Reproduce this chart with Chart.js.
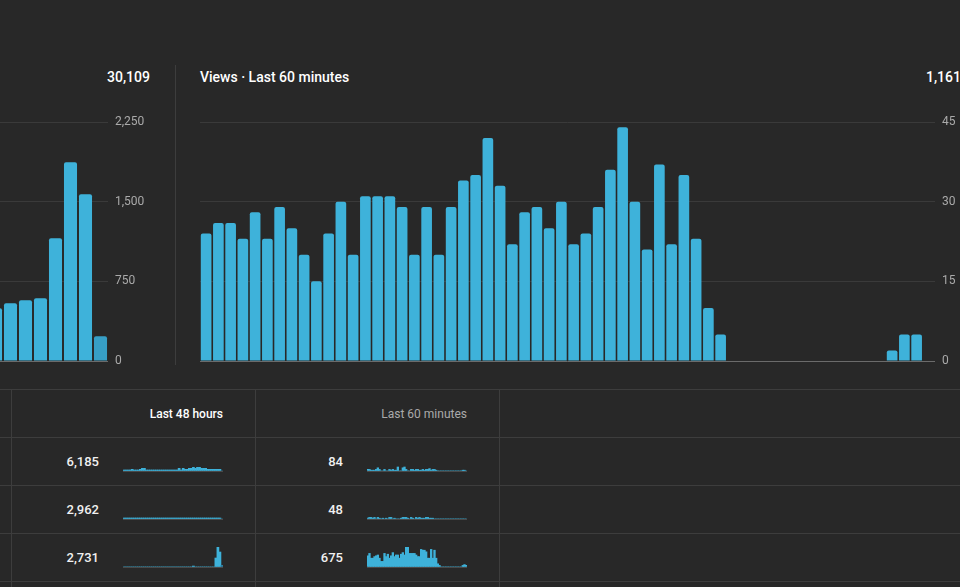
<!DOCTYPE html>
<html>
<head>
<meta charset="utf-8">
<script src="https://cdn.jsdelivr.net/npm/chart.js@4"></script>
<style>
  body{margin:0;width:960px;height:587px;overflow:hidden;position:relative;background:#282828;
       font-family:Roboto,"Noto Sans",sans-serif;color:#fff}
  .abs{position:absolute;white-space:nowrap}
  .hd{font-size:14px;font-weight:500;line-height:20px;top:67px}
  .hline{position:absolute;left:0;width:960px;height:1px;background:#3d3d3d}
  .vline{position:absolute;width:1px;background:#3d3d3d}
  .num{font-size:13px;font-weight:500;line-height:18px;text-align:right;color:#f1f1f1}
  .th{font-size:12px;line-height:16px;top:406px;text-align:right}
  canvas{position:absolute}
</style>
</head>
<body>

<div class="abs hd" style="left:0;width:150px;text-align:right">30,109</div>
<div class="abs hd" style="left:200px">Views · Last 60 minutes</div>
<div class="abs hd" style="left:926px">1,161</div>
<div class="vline" style="left:175px;top:65px;height:300px"></div>

<canvas id="hours" width="160" height="280" style="left:-12px;top:101px"></canvas>
<canvas id="minutes" width="775" height="280" style="left:200px;top:101px"></canvas>

<div class="hline" style="top:389px"></div>
<div class="hline" style="top:437px"></div>
<div class="hline" style="top:485px"></div>
<div class="hline" style="top:533px"></div>
<div class="hline" style="top:581px"></div>
<div class="vline" style="left:11px;top:389px;height:198px"></div>
<div class="vline" style="left:255px;top:389px;height:198px"></div>
<div class="vline" style="left:499px;top:389px;height:198px"></div>

<div class="abs th" style="left:0;width:223px;font-weight:500;color:#fff">Last 48 hours</div>
<div class="abs th" style="left:0;width:467px;color:#aaa">Last 60 minutes</div>

<div id="rows"></div>

<script>
// ==== DATA ====
// main 48h chart: only the last hours are in view
const hourLabels = ["41","42","43","44","45","46","47","48"];
const hourViews  = [496, 543, 571, 590, 1155, 1871, 1569, 232];
const hourTicks  = [0, 750, 1500, 2250];

// main 60 minute chart
const minuteLabels = Array.from({length:60}, (_, i) => String(i + 1));
const minuteViews = [
  24,26,26,23,28,23,29,25,20,15,
  24,30,20,31,31,31,29,20,29,20,
  29,34,35,42,33,22,28,29,25,30,
  22,24,29,36,44,30,21,37,22,35,
  23,10, 5, 0, 0, 0, 0, 0, 0, 0,
   0, 0, 0, 0, 0, 0, 2, 5, 5, 0
];
const minuteTicks = [0, 15, 30, 45];

// table rows
const rowTotals48 = ["6,185", "2,962", "2,731"];
const rowTotals60 = ["84", "48", "675"];

const spark48 = [
  [62,62,62,62,104,62,62,62,104,167,167,62,62,62,62,62,62,62,62,62,62,62,62,62,62,62,62,
   167,62,167,104,104,167,167,229,167,229,229,167,167,167,104,104,104,104,104,104,104,0],
  [62,62,62,62,62,62,62,62,62,62,62,62,62,62,62,62,62,62,62,62,62,62,62,62,
   62,62,62,62,62,62,62,62,62,62,62,62,62,62,62,62,62,62,62,62,62,62,62,62,0],
  [0,0,0,0,0,0,0,0,0,0,0,0,0,0,0,0,0,0,0,0,0,0,0,0,
   0,0,0,0,0,0,0,0,0,0,60,0,0,0,0,0,0,0,0,0,0,562,1250,937,104]
];
const spark60 = [
  [2,2,1,1,1,2,4,2,0,0, 2,0,0,2,1,2,1,1,5,0, 0,4,5,2,0,0,2,2,1,2,
   2,1,1,2,1,2,2,3,1,2, 2,1,0,0,0,0,0,0,0,0, 0,0,0,0,0,0,0,1,1,0],
  [1,2,2,1,2,0,2,1,0,1, 0,1,0,2,2,0,1,0,0,0, 1,2,2,2,1,0,2,1,0,2,
   1,2,1,1,1,2,2,1,1,1, 0,0,0,0,0,0,0,0,0,0, 0,0,0,0,0,0,0,0,0,0],
  [14,17,11,11,13,14,15,11,7,7, 17,13,16,11,14,18,13,15,15,11,
   16,18,15,25,25,17,17,17,17,15, 13,13,22,21,21,19,11,11,22,11,
   21,11,4,2,0,0,0,0,0,0, 0,0,0,0,0,0,0,2,3,2]
];
const spark48Max = 1250;
const spark60Max = 25;

// ==== STYLE ====
const BLUE = "#3eb2da";
const BLUE_NOW = "#379fc6";
const GRID = "#3a3a3a";
const ZERO = "#6b6b6b";
Chart.defaults.font.family = "Roboto, 'Noto Sans', sans-serif";
Chart.defaults.animation = false;

function mainChart(id, labels, data, ticks, colors){
  return new Chart(document.getElementById(id), {
    type: "bar",
    data: { labels, datasets: [{ data, backgroundColor: colors, borderRadius: 2,
      barPercentage: 0.87, categoryPercentage: 1 }] },
    options: {
      responsive: false, devicePixelRatio: 1,
      layout: { padding: { top: 21, bottom: 20, left: 0, right: 0 } },
      plugins: { legend: { display: false }, tooltip: { enabled: false } },
      scales: {
        x: { display: false },
        y: {
          position: "right", min: 0, max: ticks[ticks.length - 1],
          afterBuildTicks: s => { s.ticks = ticks.map(v => ({ value: v })); },
          afterFit: s => { s.width = 40; },
          border: { display: false },
          grid: { drawTicks: false, color: c => c.tick && c.tick.value === 0 ? ZERO : GRID },
          ticks: { color: "#aaa", font: { size: 12 }, padding: 7,
                   callback: v => Number(v).toLocaleString("en-US") }
        }
      }
    }
  });
}

mainChart("hours", hourLabels, hourViews, hourTicks,
  hourViews.map((v, i) => i === hourViews.length - 1 ? BLUE_NOW : BLUE));
mainChart("minutes", minuteLabels, minuteViews, minuteTicks, BLUE);

function spark(canvas, data, max, lastNow){
  const labels = data.map((_, i) => String(i));
  return new Chart(canvas, {
    type: "bar",
    data: { labels, datasets: [{ data, barPercentage: 1, categoryPercentage: 1,
      backgroundColor: data.map((v, i) => lastNow && i === data.length - 1 ? "#2f7fa3" : BLUE) }] },
    options: {
      responsive: false, devicePixelRatio: 1,
      layout: { padding: { top: 0, bottom: 1, left: 0, right: 0 } },
      plugins: { legend: { display: false }, tooltip: { enabled: false } },
      scales: {
        x: { display: false },
        y: { min: 0, max, border: { display: false },
             ticks: { display: false },
             grid: { drawTicks: false, color: c => c.tick && c.tick.value === 0 ? "#4a4a4a" : "transparent" } }
      }
    }
  });
}

// table rows
const rows = document.getElementById("rows");
const rowBase = [471, 519, 567];
rowBase.forEach((base, r) => {
  const n48 = document.createElement("div");
  n48.className = "abs num";
  n48.style.cssText = `left:0;width:99px;top:${base - 18}px`;
  n48.textContent = rowTotals48[r];
  rows.appendChild(n48);

  const n60 = document.createElement("div");
  n60.className = "abs num";
  n60.style.cssText = `left:0;width:343px;top:${base - 18}px`;
  n60.textContent = rowTotals60[r];
  rows.appendChild(n60);

  const c48 = document.createElement("canvas");
  c48.width = 100; c48.height = 21;
  c48.style.cssText = `left:123px;top:${base - 20}px`;
  rows.appendChild(c48);
  spark(c48, spark48[r], spark48Max, true);

  const c60 = document.createElement("canvas");
  c60.width = 100; c60.height = 21;
  c60.style.cssText = `left:367px;top:${base - 20}px`;
  rows.appendChild(c60);
  spark(c60, spark60[r], spark60Max, false);
});
</script>
</body>
</html>
